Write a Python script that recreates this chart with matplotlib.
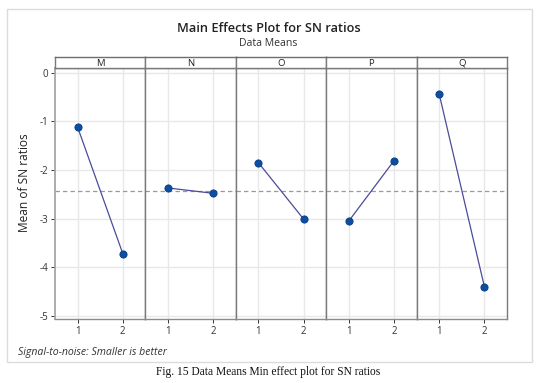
import numpy as np
import matplotlib
matplotlib.use("Agg")
import matplotlib.pyplot as plt
from matplotlib.patches import Rectangle

plt.rcParams['font.family'] = ['Open Sans', 'DejaVu Sans']
plt.rcParams['axes.unicode_minus'] = False

# data
factors = ['M', 'N', 'O', 'P', 'Q']
levels = [1, 2]
sn_level1 = [-1.12, -2.37, -1.85, -3.05, -0.44]
sn_level2 = [-3.72, -2.48, -3.01, -1.81, -4.40]
y_ticks = [0, -1, -2, -3, -4, -5]

W, H = 546, 383
fig = plt.figure(figsize=(W / 100, H / 100), dpi=100)


def fx(px):
    return px / W


def fy(py):
    return 1 - py / H


# outer light frame
fig.patches.append(Rectangle((fx(6.5), fy(361.7)), fx(531.7 - 6.5), (361.7 - 9.3) / H,
                             transform=fig.transFigure, fill=False,
                             edgecolor='#dcdcdc', lw=1.0))

fig.text(fx(269), fy(28.5), 'Main Effects Plot for SN ratios', ha='center', va='center',
         fontsize=9.2, fontweight='semibold', color='#222222')
fig.text(fx(268), fy(43), 'Data Means', ha='center', va='center',
         fontsize=7.6, color='#333333')

left, right = 55, 507
top, bottom = 68.3, 319.3
strip_top = 57.3
pw = (right - left) / len(factors)
grand_mean = np.mean(sn_level1 + sn_level2)

axes = []
for i, f in enumerate(factors):
    ax = fig.add_axes([fx(left + i * pw), fy(bottom), fx(pw), (bottom - top) / H])
    ax.plot(levels, [sn_level1[i], sn_level2[i]], color='#4b4b9b', lw=0.9, zorder=3)
    ax.plot(levels, [sn_level1[i], sn_level2[i]], 'o', ms=5.2, mfc='#0b4ea2',
            mec='#083d82', mew=0.6, zorder=4)
    ax.axhline(grand_mean, color='#999999', lw=0.9, ls=(0, (3.5, 2.5)), zorder=2)
    ax.set_xlim(0.5, 2.5)
    ax.set_ylim(-5.07, 0.09)
    ax.set_xticks(levels)
    ax.set_xticklabels([str(v) for v in levels])
    ax.set_yticks(y_ticks)
    ax.grid(True, color='#e8e8e8', lw=1.0)
    ax.set_axisbelow(True)
    ax.tick_params(labelsize=7.0, colors='#333333', length=3, width=0.7, pad=2)
    for s in ax.spines.values():
        s.set_color('#7a7a7a')
        s.set_linewidth(1.0)
    ax.spines['bottom'].set_color('#8c8c8c')
    if i == 0:
        ax.spines['left'].set_color('#a6a6a6')
        ax.spines['left'].set_linewidth(1.3)
        ax.set_ylabel('Mean of SN ratios', fontsize=8.6, color='#222222', labelpad=8)
        ax.yaxis.set_label_coords(-(55 - 31.5) / pw, (bottom - 183) / (bottom - top))
    else:
        ax.tick_params(axis='y', left=False, labelleft=False)
    # strip on top
    sax = fig.add_axes([fx(left + i * pw), fy(top), fx(pw), (top - strip_top) / H])
    sax.set_xticks([])
    sax.set_yticks([])
    for s in sax.spines.values():
        s.set_color('#7a7a7a')
        s.set_linewidth(1.0)
    sax.spines['top'].set_color('#6e6e6e')
    sax.text(0.5, 0.45, f, ha='center', va='center', fontsize=6.8,
             color='#222222', transform=sax.transAxes)
    axes.append(ax)

fig.text(fx(18), fy(352), 'Signal-to-noise: Smaller is better', ha='left', va='center',
         fontsize=7.6, style='italic', color='#333333')

fig.text(fx(268), fy(371.5), 'Fig. 15 Data Means Min effect plot for SN ratios',
         ha='center', va='center', fontsize=8.3, family='Liberation Serif', color='#111111')

fig.savefig('out.png', dpi=100)
